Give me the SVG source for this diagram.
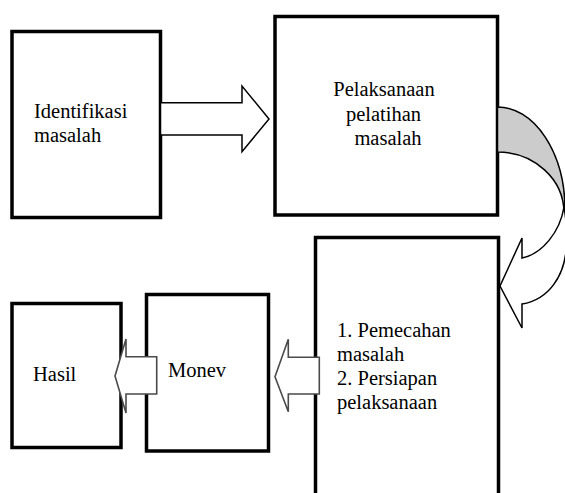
<svg xmlns="http://www.w3.org/2000/svg" width="565" height="493" viewBox="0 0 565 493">
<style>
.box{fill:#fff;stroke:#000;stroke-width:3.5}
.arr{fill:#fff;stroke:#000;stroke-width:1.5;stroke-linejoin:miter}
.arrg{fill:#fff;stroke:#4a4a4a;stroke-width:1.6;stroke-linejoin:miter}
.back{fill:#cccccc;stroke:#000;stroke-width:1.5}
.t{font-family:'Liberation Serif','Times New Roman',serif;font-size:20.5px;fill:#000}
</style>
<rect width="565" height="493" fill="#fff"/>
<g id="node-identifikasi">
<rect class="box" x="12" y="31.5" width="148.5" height="186"/>
<text class="t" x="34" y="118">Identifikasi</text>
<text class="t" x="34" y="142">masalah</text>
</g>
<g id="node-pelaksanaan">
<rect class="box" x="275" y="16.5" width="222.5" height="198.5"/>
<text class="t" x="384" y="96" text-anchor="middle">Pelaksanaan</text>
<text class="t" x="383.5" y="120.5" text-anchor="middle">pelatihan</text>
<text class="t" x="388" y="145" text-anchor="middle">masalah</text>
</g>
<g id="node-pemecahan">
<rect class="box" x="315.5" y="237.5" width="183" height="270"/>
<text class="t" x="337" y="337">1. Pemecahan</text>
<text class="t" x="337" y="361">masalah</text>
<text class="t" x="337" y="385">2. Persiapan</text>
<text class="t" x="337" y="409">pelaksanaan</text>
</g>
<g id="node-monev">
<rect class="box" x="146.5" y="294.5" width="122" height="156.5"/>
<text class="t" x="168" y="377">Monev</text>
</g>
<g id="node-hasil">
<rect class="box" x="12" y="303.5" width="109" height="144"/>
<text class="t" x="33" y="381">Hasil</text>
</g>
<g id="connectors">
<path class="arr" d="M160.5,102.7 L242,102.7 L242,86 L269,119 L242,151.7 L242,135 L160.5,135 Z"/>
<path class="back" d="M497.5,107 A67.5,103 0 0 1 565,210 L564,213 A66.5,61 0 0 0 497.5,152 Z"/>
<path class="arr" d="M522,304 C548,300 566,276 566.5,243 C567,230 566,218 564,207 C560,232 542,254 522,258 L522,238 L500,286 L522,328 Z"/>
<path class="arrg" d="M319.3,357.3 L288.3,357.3 L288.3,339.3 L275,376.7 L288.3,411.7 L288.3,394 L319.3,394 Z"/>
<path class="arrg" d="M156.7,356.7 L126,356.7 L126,339 L115,376 L126,413 L126,394 L156.7,394 Z"/>
</g>
</svg>
